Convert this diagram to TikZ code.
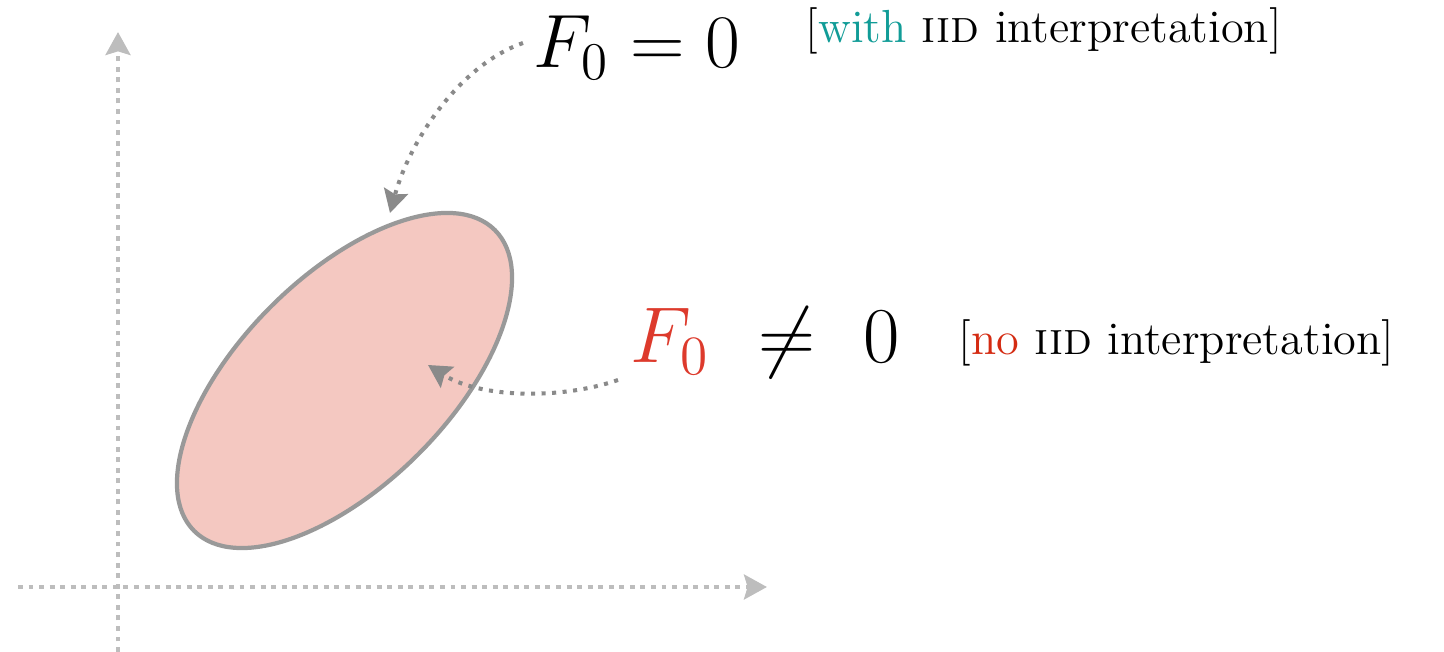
\RequirePackage{fix-cm}
\documentclass[tikz,border=0pt]{standalone}
\usepackage{amsmath,amssymb}
\usepackage{xcolor}
\usetikzlibrary{arrows.meta,calc}

\definecolor{axisgray}{HTML}{BDBDBD}
\definecolor{pointgray}{HTML}{8A8A8A}
\definecolor{rimgray}{HTML}{999999}
\definecolor{blobfill}{HTML}{F4C8C1}
\definecolor{eqred}{HTML}{DD3A2C}
\definecolor{noteteal}{HTML}{119C97}
\definecolor{notered}{HTML}{D42B12}

\begin{document}
\begin{tikzpicture}[x=0.01cm, y=-0.01cm,
  axis/.style={axisgray, line width=1.4pt, dash pattern=on 1.4pt off 1.6pt,
    -{Stealth[length=6.5pt, width=7pt, inset=1pt]}},
  pointer/.style={pointgray, line width=1.15pt, dash pattern=on 1.15pt off 1.85pt,
    -{Stealth[length=6.5pt, width=7pt, inset=1pt]}},
  eqlabel/.style={inner sep=0pt, anchor=base west},
  note/.style={font=\fontsize{13.2}{15}\selectfont, inner sep=0pt, anchor=base west}]
  \useasboundingbox (0,0) rectangle (1444,652);
  % axes
  \coordinate (yfoot) at (118,652);
  \coordinate (yhead) at (118,32);
  \coordinate (xfoot) at (18,587);
  \coordinate (xhead) at (767,587);
  \draw[axis] (yfoot) -- (yhead);
  \draw[axis] (xfoot) -- (xhead);
  % region
  \coordinate (blobc) at (344.5,380.5);
  \draw[rimgray, line width=1.2pt, fill=blobfill, rotate around={45:(blobc)}]
    (blobc) ellipse [x radius=212.7, y radius=104.3];
  % labels
  \node[eqlabel, font=\fontsize{21.5}{25}\selectfont] (eqzero) at (533,68) {$F_0 = 0$};
  \node[note] (notewith) at (805,43) {[\textcolor{noteteal}{with} \textsc{iid} interpretation]};
  \node[eqlabel, font=\fontsize{22.5}{27}\selectfont] (eqneq) at (630,363)
    {$\textcolor{eqred}{F_0}\mskip6mu\neq\mskip6mu0$};
  \node[note] (noteno) at (958,355) {[\textcolor{notered}{no} \textsc{iid} interpretation]};
  % pointers
  \coordinate (rimtip) at (390,213);
  \coordinate (innertip) at (428,365);
  \draw[pointer] ($(eqzero.base west)+(-10,-25)$) .. controls +(-63,22) and +(20,-73) .. (rimtip);
  \draw[pointer] ($(eqneq.base west)+(-12,17)$) .. controls +(-58,20) and +(52,33) .. (innertip);
\end{tikzpicture}
\end{document}
